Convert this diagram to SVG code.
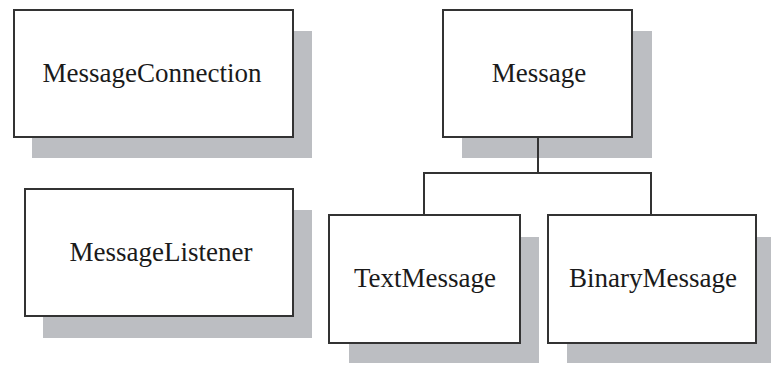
<svg xmlns="http://www.w3.org/2000/svg" width="771" height="365" viewBox="0 0 771 365">
<style>
.sh{fill:#bcbec2}
.bx{fill:#fff;stroke:#333;stroke-width:2}
.tx{font-family:"Liberation Serif","Times New Roman",serif;font-size:27px;fill:#1a1a1a;text-anchor:middle}
.cn{fill:none;stroke:#333;stroke-width:2}
</style>
<rect width="771" height="365" fill="#fff"/>
<g id="conn-node">
<rect class="sh" x="32" y="31" width="280" height="127"/>
<rect class="bx" x="14" y="10" width="279" height="127"/>
<text class="tx" x="152" y="82">MessageConnection</text>
</g>
<g id="listener-node">
<rect class="sh" x="43" y="210" width="269" height="128"/>
<rect class="bx" x="25" y="189" width="268" height="127"/>
<text class="tx" x="161" y="261">MessageListener</text>
</g>
<g id="message-node">
<rect class="sh" x="462" y="31" width="190" height="127"/>
<rect class="bx" x="443" y="10" width="189" height="127"/>
<text class="tx" x="539" y="82">Message</text>
</g>
<g id="connectors">
<path class="cn" d="M538 137V173M424 215V173H651V215"/>
</g>
<g id="text-node">
<rect class="sh" x="349" y="237" width="190" height="126"/>
<rect class="bx" x="329" y="215" width="191" height="128"/>
<text class="tx" x="425" y="287">TextMessage</text>
</g>
<g id="binary-node">
<rect class="sh" x="567" y="237" width="210" height="126"/>
<rect class="bx" x="548" y="215" width="208" height="128"/>
<text class="tx" x="653" y="287">BinaryMessage</text>
</g>
</svg>
